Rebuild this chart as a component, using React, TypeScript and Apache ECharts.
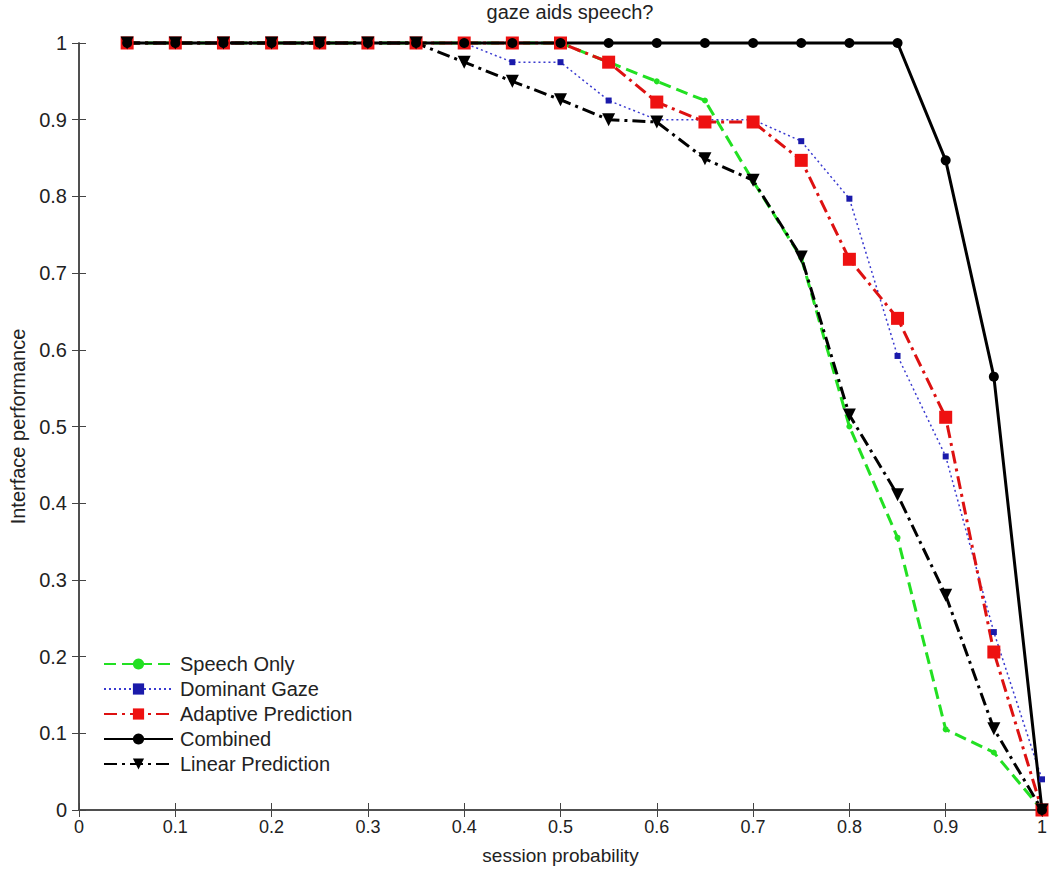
import React, { useEffect, useRef } from "react";
import * as echarts from "echarts";

const xValues = [0.05, 0.1, 0.15, 0.2, 0.25, 0.3, 0.35, 0.4, 0.45, 0.5, 0.55, 0.6, 0.65, 0.7, 0.75, 0.8, 0.85, 0.9, 0.95, 1.0];
const speechOnly = [1, 1, 1, 1, 1, 1, 1, 1, 1, 1, 0.975, 0.95, 0.925, 0.82, 0.72, 0.5, 0.355, 0.105, 0.075, 0];
const dominantGaze = [1, 1, 1, 1, 1, 1, 1, 1, 0.975, 0.975, 0.925, 0.9, 0.9, 0.9, 0.872, 0.797, 0.592, 0.461, 0.232, 0.04];
const adaptivePrediction = [1, 1, 1, 1, 1, 1, 1, 1, 1, 1, 0.975, 0.923, 0.897, 0.897, 0.847, 0.718, 0.641, 0.512, 0.206, 0];
const combined = [1, 1, 1, 1, 1, 1, 1, 1, 1, 1, 1, 1, 1, 1, 1, 1, 1, 0.847, 0.565, 0];
const linearPrediction = [1, 1, 1, 1, 1, 1, 1, 0.975, 0.95, 0.926, 0.9, 0.897, 0.849, 0.821, 0.721, 0.515, 0.411, 0.28, 0.106, 0];

const seriesNames = ["Speech Only", "Dominant Gaze", "Adaptive Prediction", "Combined", "Linear Prediction"];

const FONT = "Liberation Sans, Arial, sans-serif";

function pairs(ys: number[]) {
  return xValues.map((x, i) => [x, ys[i]]);
}

const fmt = (v: number) => String(Math.round(v * 10) / 10);

export default function App() {
  const ref = useRef<HTMLDivElement>(null);
  useEffect(() => {
    document.body.style.margin = "0";
    const chart = echarts.init(ref.current!, null, { renderer: "svg" });
    const axisLine = { show: true, lineStyle: { color: "#444", width: 1.5 } };
    const tickIn = { show: true, inside: true, length: 7, lineStyle: { color: "#444", width: 1 } };
    chart.setOption({
      animation: false,
      backgroundColor: "#fff",
      title: {
        text: "gaze aids speech?",
        left: 565,
        top: -3,
        textAlign: "center",
        textStyle: { fontFamily: FONT, fontSize: 20, fontWeight: "normal", color: "#222" },
      },
      grid: { left: 79, right: -3, top: 43, bottom: 61, containLabel: false },
      legend: {
        orient: "vertical",
        left: 103,
        top: 654,
        padding: 0,
        itemWidth: 69,
        itemHeight: 14,
        itemGap: 5,
        data: seriesNames,
        textStyle: { fontFamily: FONT, fontSize: 20, color: "#222", padding: [0, 0, 0, 2] },
      },
      xAxis: [
        {
          type: "value",
          position: "bottom",
          min: 0,
          max: 1,
          interval: 0.1,
          axisLine,
          axisTick: tickIn,
          splitLine: { show: false },
          axisLabel: { formatter: fmt, fontFamily: FONT, fontSize: 18, color: "#222", margin: 8 },
          name: "session probability",
          nameLocation: "middle",
          nameGap: 36,
          nameTextStyle: { fontFamily: FONT, fontSize: 19, color: "#222" },
        },
        {
          type: "value",
          position: "top",
          min: 0,
          max: 1,
          interval: 0.1,
          axisLine,
          axisTick: tickIn,
          splitLine: { show: false },
          axisLabel: { show: false },
        },
      ],
      yAxis: [
        {
          type: "value",
          position: "left",
          min: 0,
          max: 1,
          interval: 0.1,
          axisLine,
          axisTick: tickIn,
          splitLine: { show: false },
          axisLabel: { formatter: fmt, fontFamily: FONT, fontSize: 20, color: "#222", margin: 12 },
          name: "Interface performance",
          nameLocation: "middle",
          nameGap: 47,
          nameTextStyle: { fontFamily: FONT, fontSize: 20, color: "#222" },
        },
        {
          type: "value",
          position: "right",
          min: 0,
          max: 1,
          interval: 0.1,
          axisLine,
          axisTick: tickIn,
          splitLine: { show: false },
          axisLabel: { show: false },
        },
      ],
      series: [
        {
          name: seriesNames[0],
          type: "line",
          data: pairs(speechOnly),
          clip: false,
          symbol: "circle",
          symbolSize: 6,
          itemStyle: { color: "#22e022" },
          lineStyle: { color: "#22e022", width: 3, type: [12, 6] },
        },
        {
          name: seriesNames[1],
          type: "line",
          data: pairs(dominantGaze),
          clip: false,
          symbol: "rect",
          symbolSize: 6,
          itemStyle: { color: "#1a1aaa" },
          lineStyle: { color: "#3a3ad0", width: 1.5, type: [2, 3] },
        },
        {
          name: seriesNames[2],
          type: "line",
          data: pairs(adaptivePrediction),
          clip: false,
          symbol: "rect",
          symbolSize: 13,
          itemStyle: { color: "#ee1111" },
          lineStyle: { color: "#dd1111", width: 3, type: [13, 5, 3, 5] },
        },
        {
          name: seriesNames[3],
          type: "line",
          data: pairs(combined),
          clip: false,
          symbol: "circle",
          symbolSize: 10,
          itemStyle: { color: "#000" },
          lineStyle: { color: "#000", width: 3, type: "solid" },
        },
        {
          name: seriesNames[4],
          type: "line",
          data: pairs(linearPrediction),
          clip: false,
          symbol: "triangle",
          symbolRotate: 180,
          symbolSize: 13,
          itemStyle: { color: "#000" },
          lineStyle: { color: "#000", width: 3, type: [13, 5, 3, 5] },
        },
      ],
    });
    return () => chart.dispose();
  }, []);
  return <div ref={ref} style={{ width: 1050, height: 871, position: "absolute", left: 0, top: 0 }} />;
}
